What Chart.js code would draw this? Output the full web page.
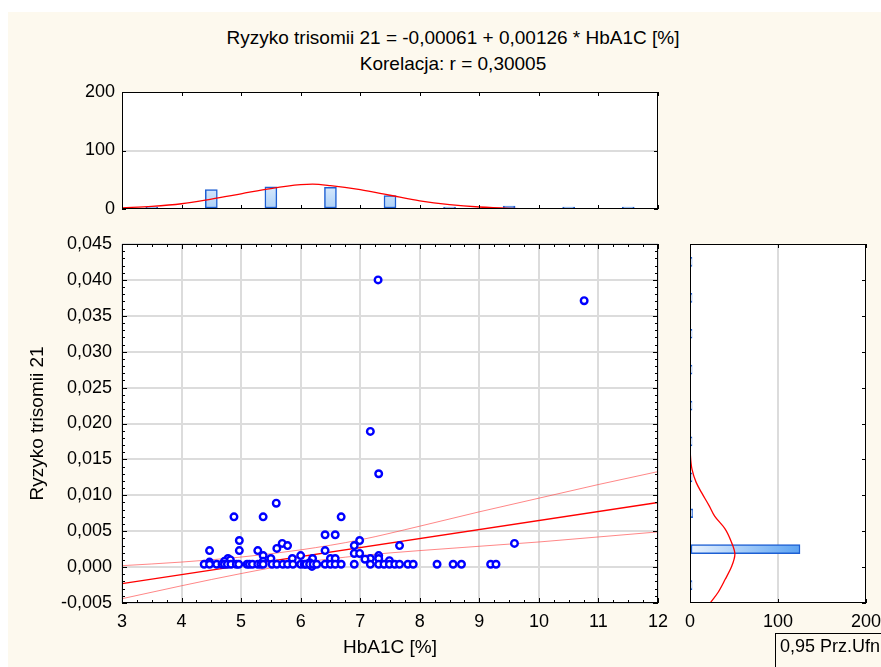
<!DOCTYPE html>
<html>
<head>
<meta charset="utf-8">
<script src="https://cdn.jsdelivr.net/npm/chart.js@4.4.0/dist/chart.umd.min.js"></script>
<style>
  html, body { margin: 0; padding: 0; background: #fff; }
  body { width: 881px; height: 667px; position: relative; overflow: hidden; font-family: "Liberation Sans", Arial, sans-serif; }
  #bg { position: absolute; left: 8px; top: 12px; right: 0; bottom: 0; background: #fdf9ee; }
  .title { position: absolute; left: 0; width: 906px; text-align: center; font-size: 19px; line-height: 22px; color: #000; }
  canvas { position: absolute; left: 0; top: 0; }
  #legendBox { position: absolute; left: 775px; top: 633px; width: 120px; height: 60px; border-left: 1px solid #000; border-top: 1px solid #000; font-size: 18px; line-height: 22px; padding: 1px 0 0 4px; white-space: nowrap; }
</style>
</head>
<body>
<div id="bg"></div>
<div class="title" style="top:27px">Ryzyko trisomii 21 = -0,00061 + 0,00126 * HbA1C [%]</div>
<div class="title" style="top:53px">Korelacja: r = 0,30005</div>
<canvas id="topHist" width="900" height="667"></canvas>
<canvas id="scatter" width="900" height="667"></canvas>
<canvas id="rightHist" width="900" height="667"></canvas>
<div id="legendBox">0,95 Prz.Ufn</div>

<script>
// ---- data ----
// scatter: HbA1C [%] vs Ryzyko trisomii 21
const hba1c = [7.30, 10.76, 7.17, 7.31, 5.59, 4.88, 5.37, 6.68, 6.41, 6.58,
  4.97, 6.99, 5.69, 9.59, 5.78, 6.90, 7.66, 5.60, 4.47, 4.97,
  5.28, 6.41, 6.90, 6.99, 5.37, 6.00, 7.31, 4.78, 5.50, 5.86,
  6.20, 6.50, 6.58, 7.17, 7.31, 7.08, 7.49, 4.72, 4.47, 4.82,
  5.37, 6.19, 6.15,
  4.38, 4.47, 4.59, 4.68, 4.72, 4.77, 4.83, 4.92, 4.96, 5.10,
  5.14, 5.19, 5.28, 5.33, 5.37, 5.52, 5.60, 5.70, 5.78, 5.87,
  6.00, 6.06, 6.09, 6.15, 6.21, 6.27, 6.41, 6.50, 6.58, 6.68,
  6.90, 7.17, 7.31, 7.40, 7.49, 7.58, 7.66, 7.80, 7.89, 8.29,
  8.56, 8.70, 9.19, 9.28];
const risk = [0.0400, 0.0371, 0.0189, 0.0130, 0.0089, 0.0070, 0.0070, 0.0070, 0.0045, 0.0045,
  0.0037, 0.0037, 0.0033, 0.0033, 0.0030, 0.0030, 0.0030, 0.0026, 0.0023, 0.0023,
  0.0023, 0.0023, 0.0019, 0.0019, 0.0016, 0.0016, 0.0016, 0.0012, 0.0012, 0.0012,
  0.0012, 0.0012, 0.0012, 0.0012, 0.0012, 0.0011, 0.0009, 0.0008, 0.0007, 0.0010,
  0.0008, 0.0001, 0.0006,
  0.0004, 0.0004, 0.0004, 0.0004, 0.0004, 0.0004, 0.0004, 0.0004, 0.0004, 0.0004,
  0.0004, 0.0004, 0.0004, 0.0004, 0.0004, 0.0004, 0.0004, 0.0004, 0.0004, 0.0004,
  0.0004, 0.0004, 0.0004, 0.0004, 0.0004, 0.0004, 0.0004, 0.0004, 0.0004, 0.0004,
  0.0004, 0.0004, 0.0004, 0.0004, 0.0004, 0.0004, 0.0004, 0.0004, 0.0004, 0.0004,
  0.0004, 0.0004, 0.0004, 0.0004];

// regression line and 0.95 confidence band
const fitX = [3, 12];
const fitY = [-0.0023, 0.0090];
const bandX = [3, 4, 5, 6, 7, 8, 9, 10, 11, 12];
const bandUpper = [0.0002, 0.0007, 0.0014, 0.0024, 0.0038, 0.0057, 0.0077, 0.0096, 0.0115, 0.0133];
const bandLower = [-0.0044, -0.0026, -0.0009, 0.0006, 0.0016, 0.0023, 0.0029, 0.0035, 0.0042, 0.0049];

// top histogram (HbA1C)
const hbBins = [3.5, 4.5, 5.5, 6.5, 7.5, 8.5, 9.5, 10.5, 11.5];
const hbCounts = [0, 33, 38, 37, 23, 3, 5, 1, 0];
const hbCurveX = [3, 3.5, 4, 4.5, 5, 5.5, 6, 6.2, 6.5, 7, 7.5, 8, 8.5, 9, 9.5, 10, 10.5, 11, 12];
const hbCurveY = [2, 4.5, 9, 17, 26, 35, 41.5, 42.5, 40, 33, 23.5, 14, 7.5, 3.4, 1.2, 0.4, 0.1, 0, 0];

// right histogram (Ryzyko trisomii 21)
const riskBins = [-0.0025, 0.0025, 0.0075, 0.0125, 0.0175, 0.0225, 0.0275, 0.0325, 0.0375, 0.0425];
const riskCounts = [0, 125, 3, 1, 1, 0, 0, 0, 1, 1];
const riskCurveY = [-0.005, -0.0035, -0.0017, 0.0, 0.0018, 0.0035, 0.0053, 0.0071, 0.0085, 0.0104, 0.0118, 0.0136, 0.0155, 0.018, 0.025, 0.035, 0.045];
const riskCurveX = [23, 32, 40, 47, 51, 47, 40, 28, 22, 13, 7, 2.3, 0.5, 0.1, 0, 0, 0];

// ---- shared style ----
const FONT = { family: "'Liberation Sans', Arial, sans-serif", size: 18 };
const TITLE_FONT = { family: "'Liberation Sans', Arial, sans-serif", size: 19 };
const GRID = '#dcdcdc';
const RED = '#ff0000';

// frame + inward tick marks, positions taken from the chart's own scales
const framePlugin = {
  id: 'frame',
  afterDraw(chart, args, opts) {
    const { ctx, chartArea: a, scales } = chart;
    ctx.save();
    ctx.strokeStyle = '#000';
    ctx.lineWidth = 1;
    (opts.marks || []).forEach(m => {
      const sc = scales[m.axis];
      const n = Math.round((sc.max - sc.min) / m.step);
      ctx.beginPath();
      for (let i = 0; i <= n; i++) {
        const p = Math.round(sc.getPixelForValue(sc.min + i * m.step)) + 0.5;
        m.sides.forEach(s => {
          if (s === 'top') { ctx.moveTo(p, a.top); ctx.lineTo(p, a.top + m.len); }
          if (s === 'bottom') { ctx.moveTo(p, a.bottom); ctx.lineTo(p, a.bottom - m.len); }
          if (s === 'left') { ctx.moveTo(a.left, p); ctx.lineTo(a.left + m.len, p); }
          if (s === 'right') { ctx.moveTo(a.right, p); ctx.lineTo(a.right - m.len, p); }
        });
      }
      ctx.stroke();
    });
    ctx.strokeRect(Math.round(a.left) + 0.5, Math.round(a.top) + 0.5,
      Math.round(a.right - a.left) - 1, Math.round(a.bottom - a.top) - 1);
    ctx.restore();
  }
};

// white plot area
const plotBg = {
  id: 'plotBg',
  beforeDraw(chart) {
    const { ctx, chartArea: a } = chart;
    ctx.save();
    ctx.fillStyle = '#fff';
    ctx.fillRect(a.left, a.top, a.right - a.left, a.bottom - a.top);
    ctx.restore();
  }
};

const commaFmt = v => v.toFixed(3).replace('.', ',').replace('-0,000', '0,000');

// =============================
// Top histogram
// =============================
new Chart(document.getElementById('topHist'), {
  type: 'bar',
  data: {
    datasets: [
      {
        type: 'line',
        data: hbCurveX.map((x, i) => ({ x, y: hbCurveY[i] })),
        borderColor: RED,
        borderWidth: 1.3,
        pointRadius: 0,
        cubicInterpolationMode: 'monotone'
      },
      {
        type: 'bar',
        data: hbBins.map((x, i) => ({ x, y: hbCounts[i] })),
        barThickness: 12,
        minBarLength: 2,
        borderColor: '#1d5fd3',
        borderWidth: 1.5,
        borderSkipped: false,
        backgroundColor: (c) => {
          const a = c.chart.chartArea;
          if (!a) return '#cfe4fb';
          const g = c.chart.ctx.createLinearGradient(0, a.bottom - 25, 0, a.bottom);
          g.addColorStop(0, '#dcecfd');
          g.addColorStop(1, '#acd0f7');
          return g;
        }
      }
    ]
  },
  options: {
    responsive: false,
    animation: false,
    devicePixelRatio: 1,
    layout: { padding: { top: 92, bottom: 458, left: 0, right: 242 } },
    plugins: {
      legend: { display: false },
      tooltip: { enabled: false },
      frame: { marks: [
        { axis: 'x', step: 1, len: 4, sides: ['top', 'bottom'] },
        { axis: 'y', step: 100, len: 4, sides: ['left', 'right'] }
      ] }
    },
    scales: {
      x: { type: 'linear', min: 3, max: 12, offset: false, display: false, grid: { offset: false } },
      y: {
        min: 0, max: 200,
        ticks: { stepSize: 100, font: FONT, color: '#000', padding: 7 },
        grid: { drawTicks: false, color: c => c.tick && c.tick.value === 100 ? GRID : 'transparent', lineWidth: 2 },
        border: { display: false },
        afterFit: s => { s.width = 122; }
      }
    }
  },
  plugins: [plotBg, framePlugin]
});

// =============================
// Scatter with regression line
// =============================
new Chart(document.getElementById('scatter'), {
  type: 'scatter',
  data: {
    datasets: [
      {
        data: hba1c.map((x, i) => ({ x, y: risk[i] })),
        pointRadius: 3.3,
        pointBorderWidth: 2.4,
        borderColor: '#0000ff',
        backgroundColor: '#ffffff'
      },
      {
        data: fitX.map((x, i) => ({ x, y: fitY[i] })),
        showLine: true,
        pointRadius: 0,
        borderColor: RED,
        borderWidth: 1.3
      },
      {
        data: bandX.map((x, i) => ({ x, y: bandUpper[i] })),
        showLine: true,
        pointRadius: 0,
        borderColor: 'rgba(255,70,70,0.65)',
        borderWidth: 1,
        cubicInterpolationMode: 'monotone'
      },
      {
        data: bandX.map((x, i) => ({ x, y: bandLower[i] })),
        showLine: true,
        pointRadius: 0,
        borderColor: 'rgba(255,70,70,0.65)',
        borderWidth: 1,
        cubicInterpolationMode: 'monotone'
      }
    ]
  },
  options: {
    responsive: false,
    animation: false,
    devicePixelRatio: 1,
    layout: { padding: { top: 244, bottom: 0, left: 0, right: 242 } },
    plugins: {
      legend: { display: false },
      tooltip: { enabled: false },
      frame: { marks: [
        { axis: 'x', step: 0.25, len: 3, sides: ['top', 'bottom'] },
        { axis: 'x', step: 1, len: 5, sides: ['top', 'bottom'] },
        { axis: 'y', step: 0.001, len: 3, sides: ['left', 'right'] },
        { axis: 'y', step: 0.005, len: 5, sides: ['left', 'right'] }
      ] }
    },
    scales: {
      x: {
        type: 'linear', min: 3, max: 12,
        ticks: { stepSize: 1, font: FONT, color: '#000', padding: 8 },
        grid: { drawTicks: false, color: GRID, lineWidth: 2 },
        border: { display: false },
        title: { display: true, text: 'HbA1C [%]', font: TITLE_FONT, color: '#000', padding: { top: 0, bottom: 8 } },
        afterFit: s => { s.height = 64; }
      },
      y: {
        min: -0.005, max: 0.045,
        ticks: { stepSize: 0.005, font: FONT, color: '#000', padding: 10, callback: v => commaFmt(v) },
        grid: { drawTicks: false, color: GRID, lineWidth: 2 },
        border: { display: false },
        title: { display: true, text: 'Ryzyko trisomii 21', font: TITLE_FONT, color: '#000', padding: { top: 26, bottom: 0 } },
        afterFit: s => { s.width = 122; }
      }
    }
  },
  plugins: [plotBg, framePlugin]
});

// =============================
// Right histogram (horizontal)
// =============================
new Chart(document.getElementById('rightHist'), {
  type: 'bar',
  data: {
    datasets: [
      {
        type: 'line',
        data: riskCurveY.map((y, i) => ({ x: riskCurveX[i], y })),
        borderColor: RED,
        borderWidth: 1.3,
        pointRadius: 0,
        cubicInterpolationMode: 'monotone'
      },
      {
        type: 'bar',
        data: riskBins.map((y, i) => ({ x: riskCounts[i], y })),
        barThickness: 9,
        minBarLength: 2,
        borderColor: '#1d5fd3',
        borderWidth: 1.5,
        borderSkipped: false,
        backgroundColor: (c) => {
          const a = c.chart.chartArea;
          if (!a) return '#8fc0f6';
          const g = c.chart.ctx.createLinearGradient(a.left, 0, a.left + 110, 0);
          g.addColorStop(0, '#eaf3fe');
          g.addColorStop(1, '#5ba3f3');
          return g;
        }
      }
    ]
  },
  options: {
    indexAxis: 'y',
    responsive: false,
    animation: false,
    devicePixelRatio: 1,
    layout: { padding: { top: 244, bottom: 0, left: 690, right: 34 } },
    plugins: {
      legend: { display: false },
      tooltip: { enabled: false },
      frame: { marks: [
        { axis: 'y', step: 0.005, len: 4, sides: ['right'] },
        { axis: 'x', step: 100, len: 4, sides: ['top', 'bottom'] }
      ] }
    },
    scales: {
      x: {
        type: 'linear', min: 0, max: 200, offset: false,
        ticks: { stepSize: 100, font: FONT, color: '#000', padding: 8 },
        grid: { drawTicks: false, offset: false, color: c => c.tick && c.tick.value === 100 ? GRID : 'transparent', lineWidth: 2 },
        border: { display: false },
        afterFit: s => { s.height = 64; }
      },
      y: {
        type: 'linear', min: -0.005, max: 0.045, offset: false,
        display: false,
        grid: { offset: false }
      }
    }
  },
  plugins: [plotBg, framePlugin]
});
</script>
</body>
</html>
